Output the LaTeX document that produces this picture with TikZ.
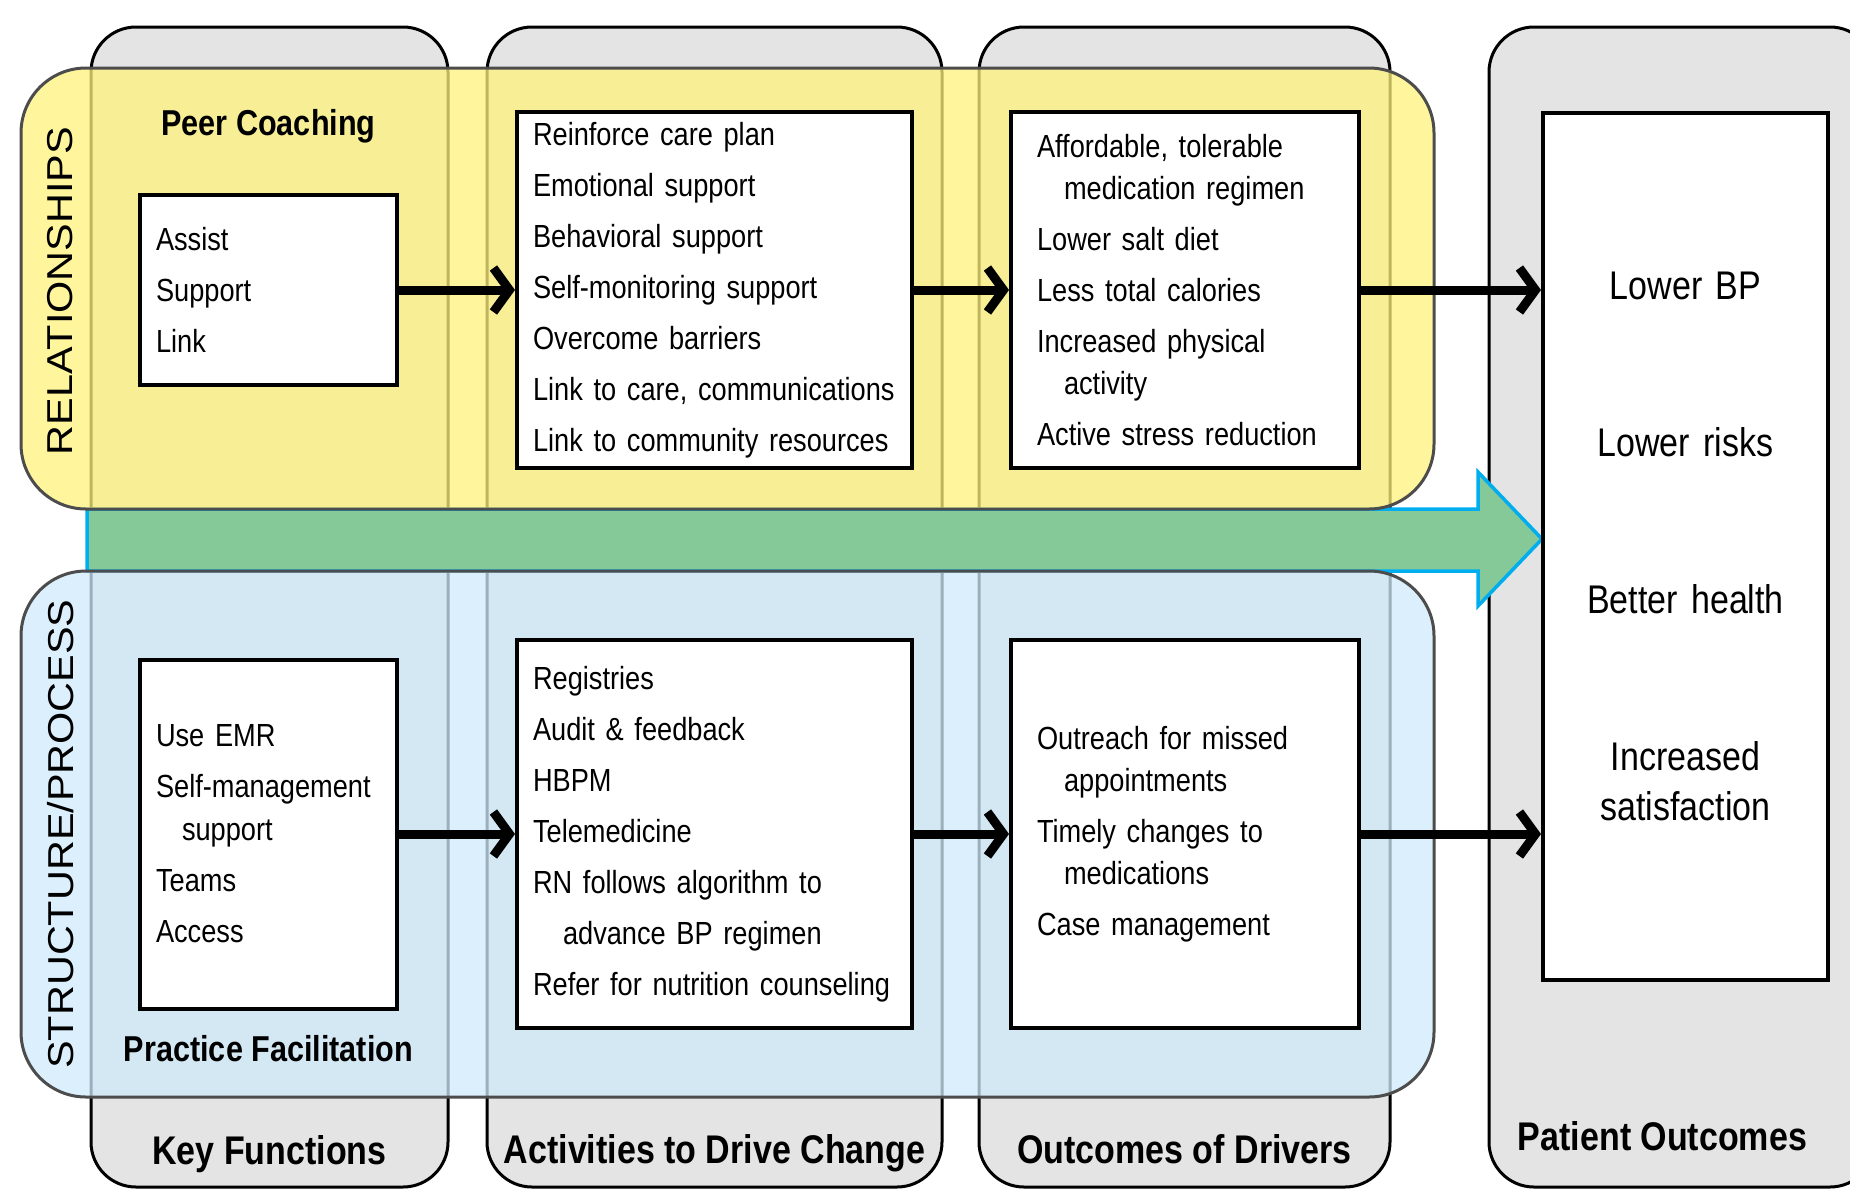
\documentclass[tikz,border=0pt]{standalone}
\usepackage{fontspec}
\setmainfont{Liberation Sans}[FakeStretch=0.85]
\newfontfamily\bandfont{Liberation Sans}[FakeStretch=1.15]
\usepackage{xcolor}
\usetikzlibrary{positioning, arrows.meta}

\definecolor{colgray}{RGB}{227,228,227}
\definecolor{relyellow}{RGB}{255,242,124}
\definecolor{procblue}{RGB}{208,234,251}
\definecolor{flowgreen}{RGB}{134,201,152}
\definecolor{flowcyan}{RGB}{0,174,239}

\begin{document}
\begin{tikzpicture}[
  x=1pt, y=-1pt,
  column/.style={draw=black, line width=3pt, fill=colgray, rounded corners=45pt},
  band/.style={draw=black!70, line width=3pt, rounded corners=65pt, fill opacity=0.75},
  item/.style={rectangle, draw, line width=4pt, fill=white, align=left, inner xsep=16pt, font=\fontsize{32}{51}\selectfont},
  head/.style={inner sep=0pt, anchor=base, font=\fontsize{40}{48}\selectfont\bfseries},
  driver/.style={inner sep=0pt, font=\fontsize{36}{44}\selectfont\bfseries},
  bandlbl/.style={rotate=90, inner sep=0pt, font=\fontsize{36}{44}\bandfont},
  arr/.style={-{Straight Barb[length=16pt, width=44pt]}, line width=9pt}
]
\useasboundingbox (0,0) rectangle (1850,1189);

\draw[column] (91,27) rectangle (448,1187);
\draw[column] (487,27) rectangle (942,1187);
\draw[column] (979,27) rectangle (1390,1187);
\draw[column] (1489,27) rectangle (1875,1187);

\draw[fill=flowgreen, draw=flowcyan, line width=3.5pt] (87,509) -- (1478,509) -- (1478,472) -- (1542,539)
  -- (1478,606) -- (1478,571) -- (87,571) -- cycle;

\draw[band, fill=relyellow] (21,68) rectangle (1434,509);
\draw[band, fill=procblue] (21,571) rectangle (1434,1097);

\node[head] (keyhd) at (269.5,1164) {Key Functions};
\node[head] (acthd) at (714.5,1163) {Activities to Drive Change};
\node[head] (outhd) at (1184.5,1163) {Outcomes of Drivers};
\node[head] (pathd) at (1662.5,1150) {Patient Outcomes};

\node[bandlbl] (rellbl) at (60,291) {RELATIONSHIPS};
\node[bandlbl] (proclbl) at (61,834) {STRUCTURE/PROCESS};

\node[item, text width=225pt, minimum height=190pt] (assist) at (268.5,290) {Assist\\Support\\Link};
\node[item, text width=363pt, minimum height=356pt] (reinf) at (714.5,290) {Reinforce care plan\\Emotional support\\Behavioral support\\Self-monitoring support\\Overcome barriers\\Link to care, communications\\Link to community resources};
\node[item, inner xsep=26pt, text width=296pt, minimum height=356pt] (afford) at (1185,290) {Affordable, tolerable\\[-9pt]\hspace*{27pt}medication regimen\\Lower salt diet\\Less total calories\\Increased physical\\[-9pt]\hspace*{27pt}activity\\Active stress reduction};
\node[item, text width=225pt, minimum height=349pt] (emr) at (268.5,834) {Use EMR\\Self-management\\[-8pt]\hspace*{26pt}support\\Teams\\Access};
\node[item, text width=363pt, minimum height=388pt] (reg) at (714.5,834) {Registries\\Audit \& feedback\\HBPM\\Telemedicine\\RN follows algorithm to\\\hspace*{30pt}advance BP regimen\\Refer for nutrition counseling};
\node[item, inner xsep=26pt, text width=296pt, minimum height=388pt] (outreach) at (1185,834) {Outreach for missed\\[-9pt]\hspace*{27pt}appointments\\Timely changes to\\[-9pt]\hspace*{27pt}medications\\Case management};
\node[item, align=center, text width=253pt, minimum height=867pt, font=\fontsize{40}{50}\selectfont] (patient) at (1685.5,546.5) {Lower BP\\[107pt]Lower risks\\[107pt]Better health\\[107pt]Increased\\satisfaction};

\node[driver, above=50pt of assist] (peer) {Peer Coaching};
\node[driver, below=25pt of emr] (pracfac) {Practice Facilitation};

\draw[arr] (assist) -- (reinf);
\draw[arr] (reinf) -- (afford);
\draw[arr] (afford.east) -- (afford.east -| patient.west);
\draw[arr] (emr) -- (reg);
\draw[arr] (reg) -- (outreach);
\draw[arr] (outreach.east) -- (outreach.east -| patient.west);

\end{tikzpicture}
\end{document}
